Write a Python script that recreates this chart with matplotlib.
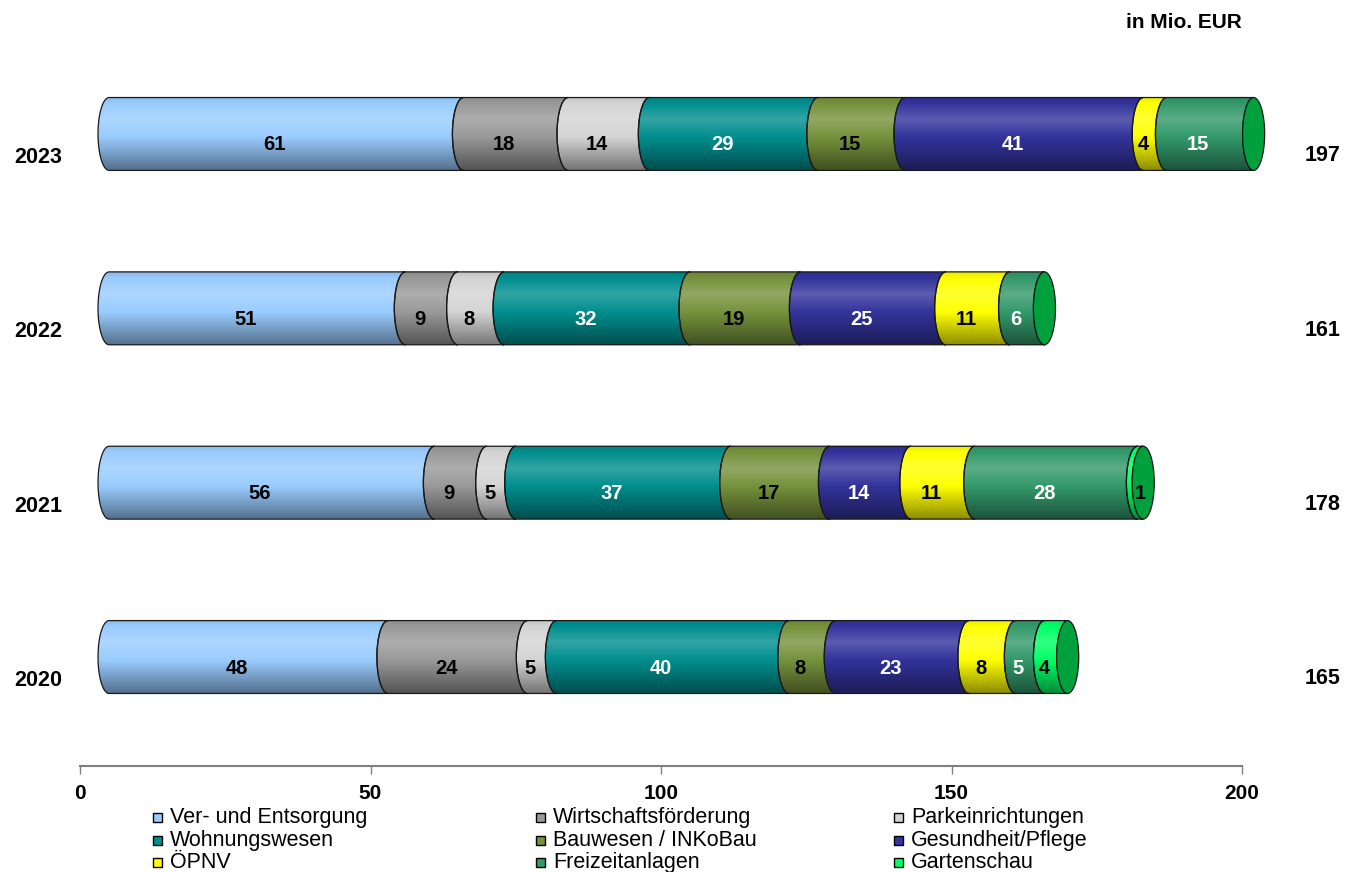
import numpy as np
import matplotlib
matplotlib.use("Agg")
import matplotlib.pyplot as plt
from matplotlib.path import Path
from matplotlib.patches import PathPatch, Ellipse, Rectangle
from matplotlib import transforms
from matplotlib.colors import to_rgb

plt.rcParams['font.family'] = ['Liberation Sans', 'DejaVu Sans']

# data (in Mio. EUR), order of years bottom -> top
years = ['2020', '2021', '2022', '2023']
ver_entsorgung = [48, 56, 51, 61]
wirtschaft = [24, 9, 9, 18]
parken = [5, 5, 8, 14]
wohnen = [40, 37, 32, 29]
bauwesen = [8, 17, 19, 15]
gesundheit = [23, 14, 25, 41]
oepnv = [8, 11, 11, 4]
freizeit = [5, 28, 6, 15]
gartenschau = [4, 1, 0, 0]

categories = ['Ver- und Entsorgung', 'Wirtschaftsförderung', 'Parkeinrichtungen',
              'Wohnungswesen', 'Bauwesen / INKoBau', 'Gesundheit/Pflege',
              'ÖPNV', 'Freizeitanlagen', 'Gartenschau']
series = [ver_entsorgung, wirtschaft, parken, wohnen, bauwesen,
          gesundheit, oepnv, freizeit, gartenschau]
colors = ['#99ccff', '#999999', '#d4d4d4', '#008e8e', '#76923c',
          '#33339c', '#ffff00', '#33996a', '#00ff66']
label_colors = ['black', 'black', 'black', 'white', 'black',
                'white', 'black', 'white', 'black']
cap_color = '#00a03c'

OFF = 5.0      # 3d depth shift of the cylinders
RX = 1.9       # half width of the elliptic ends (data units)
H = 0.418      # bar height


def seg_path(x0, x1, yc, n=40):
    ry = H / 2
    t = np.linspace(np.pi / 2, 3 * np.pi / 2, n)
    right = np.column_stack([x1 + RX * np.cos(t), yc + ry * np.sin(t)])
    left = np.column_stack([x0 + RX * np.cos(t[::-1]), yc + ry * np.sin(t[::-1])])
    verts = np.vstack([right, left, right[:1]])
    codes = [Path.MOVETO] + [Path.LINETO] * (len(verts) - 2) + [Path.CLOSEPOLY]
    return Path(verts, codes)


def gradient(color, n=120):
    base = np.array(to_rgb(color))
    f = np.linspace(0, 1, n)
    # top slightly dark, highlight near upper third, dark at bottom
    stops_f = [0.0, 0.3, 0.55, 1.0]
    stops_w = [-0.08, 0.2, 0.0, -0.45]
    w = np.interp(f, stops_f, stops_w)
    img = np.zeros((n, 1, 4))
    for i, k in enumerate(w):
        if k >= 0:
            c = base + (1 - base) * k
        else:
            c = base * (1 + k)
        img[i, 0, :3] = c
        img[i, 0, 3] = 1
    return img


fig = plt.figure(figsize=(13.59, 8.72), dpi=100)
W, Hpx = 1359, 872
ax = fig.add_axes([80 / W, 1 - 766 / Hpx, 1162 / W, (766 - 40) / Hpx])

for yi, year in enumerate(years):
    cum = 0
    for ci, vals in enumerate(series):
        v = vals[yi]
        if v == 0:
            continue
        x0 = OFF + cum
        x1 = OFF + cum + v
        p = seg_path(x0, x1, yi)
        fill = PathPatch(p, facecolor=colors[ci], edgecolor='none', zorder=2, clip_on=False)
        ax.add_patch(fill)
        im = ax.imshow(gradient(colors[ci]), extent=(x0 - RX, x1, yi - H / 2, yi + H / 2),
                       aspect='auto', origin='upper', interpolation='bilinear', zorder=2.1)
        im.set_clip_path(fill)
        im.set_clip_box(fig.bbox)
        ax.add_patch(PathPatch(p, facecolor='none', edgecolor='#1a1a1a', lw=0.9,
                               zorder=2.2, clip_on=False))
        lx = cum + v / 2 + OFF - 2
        if v < 2:
            lx = cum + OFF + 0.5   # tiny slice: label sits on the end cap
        ax.text(lx, yi - 0.063, str(v), ha='center', va='center',
                fontsize=14.5, fontweight='bold', color=label_colors[ci], zorder=5)
        cum += v
    ax.add_patch(Ellipse((OFF + cum, yi), 2 * RX, H, facecolor=cap_color,
                         edgecolor='#1a1a1a', lw=0.9, zorder=4, clip_on=False))

ax.set_xlim(0, 200)
ax.set_ylim(-0.625, 3.539)
for s in ['top', 'right', 'left']:
    ax.spines[s].set_visible(False)
ax.spines['bottom'].set_color('#808080')
ax.spines['bottom'].set_linewidth(1.5)
ax.set_yticks([])
ax.set_xticks([0, 50, 100, 150, 200])
ax.tick_params(axis='x', direction='out', length=6, color='#808080', width=1, pad=7)
for lab in ax.get_xticklabels():
    lab.set_fontsize(15)
    lab.set_fontweight('bold')

# year labels and totals
trans_left = transforms.blended_transform_factory(fig.transFigure, ax.transData)
for yi, year in enumerate(years):
    total = sum(vals[yi] for vals in series)
    ax.text(62 / W, yi - 0.135, year, transform=trans_left, ha='right', va='center',
            fontsize=15.5, fontweight='bold')
    ax.text(1341 / W, yi - 0.125, str(total), transform=trans_left, ha='right', va='center',
            fontsize=15.5, fontweight='bold')

fig.text(1242 / W, 1 - 22 / Hpx, 'in Mio. EUR', ha='right', va='center',
         fontsize=15, fontweight='bold')

# legend, row-wise like the original
col_x = [153, 536, 894]
row_y = [817, 840, 862]
for i, (name, col) in enumerate(zip(categories, colors)):
    r, c = divmod(i, 3)
    mx = col_x[c]
    my = row_y[r]
    fig.patches.append(Rectangle((mx / W, 1 - (my + 4.5) / Hpx), 9 / W, 9 / Hpx,
                                 transform=fig.transFigure, facecolor=col,
                                 edgecolor='black', lw=1))
    fig.text((mx + 17) / W, 1 - my / Hpx, name, ha='left', va='center', fontsize=15.5)

fig.savefig('out.png', dpi=100)
